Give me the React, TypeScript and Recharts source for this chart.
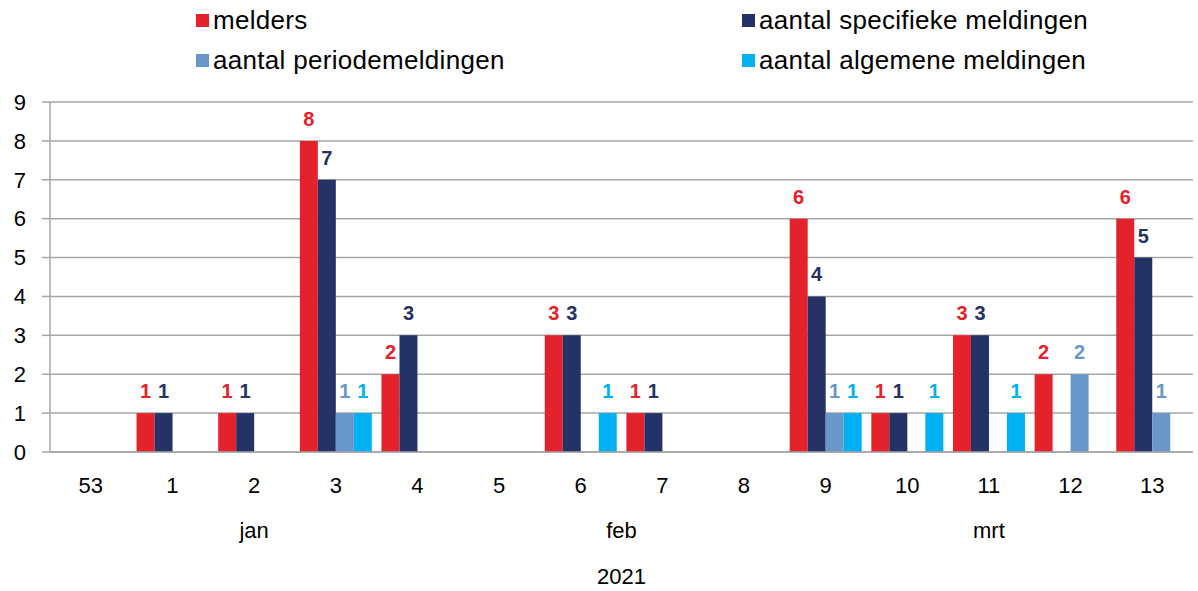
import React from 'react';
import { BarChart, Bar, XAxis, YAxis, CartesianGrid, LabelList } from 'recharts';

const weeks = ['53', '1', '2', '3', '4', '5', '6', '7', '8', '9', '10', '11', '12', '13'];
const months = ['jan', 'jan', 'jan', 'jan', 'jan', 'feb', 'feb', 'feb', 'feb', 'mrt', 'mrt', 'mrt', 'mrt', 'mrt'];
const year = '2021';
const melders = [0, 1, 1, 8, 2, 0, 3, 1, 0, 6, 1, 3, 2, 6];
const specifiek = [0, 1, 1, 7, 3, 0, 3, 1, 0, 4, 1, 3, 0, 5];
const periode = [0, 0, 0, 1, 0, 0, 0, 0, 0, 1, 0, 0, 2, 1];
const algemeen = [0, 0, 0, 1, 0, 0, 1, 0, 0, 1, 1, 1, 0, 0];
const yTicks = [0, 1, 2, 3, 4, 5, 6, 7, 8, 9];

const series = [
  { key: 'melders', name: 'melders', color: '#E4222B' },
  { key: 'specifiek', name: 'aantal specifieke meldingen', color: '#243265' },
  { key: 'periode', name: 'aantal periodemeldingen', color: '#6A97C9' },
  { key: 'algemeen', name: 'aantal algemene meldingen', color: '#00B0F0' },
];

const data = weeks.map((w, i) => ({
  week: w,
  month: months[i],
  melders: melders[i],
  specifiek: specifiek[i],
  periode: periode[i],
  algemeen: algemeen[i],
}));

const FONT = '"Liberation Sans", Arial, sans-serif';

function WeekTick(props: any) {
  const { x, y, payload, width } = props;
  const i: number = payload && payload.index != null ? payload.index : props.index;
  const bw = Number(width) / weeks.length;
  const items: any[] = [
    <text key="w" x={x} y={y + 41} textAnchor="middle" fontSize={22} fill="#000" fontFamily={FONT}>
      {payload.value}
    </text>,
  ];
  if (i === 0 || months[i] !== months[i - 1]) {
    let j = i;
    while (j + 1 < months.length && months[j + 1] === months[i]) j++;
    const off = ((i + j) / 2 - i) * bw;
    items.push(
      <text key="m" x={x + off} y={y + 86} textAnchor="middle" fontSize={22} fill="#000" fontFamily={FONT}>
        {months[i]}
      </text>
    );
  }
  if (i === 0) {
    const off = ((weeks.length - 1) / 2) * bw;
    items.push(
      <text key="y" x={x + off} y={y + 132} textAnchor="middle" fontSize={22} fill="#000" fontFamily={FONT}>
        {year}
      </text>
    );
  }
  return <g>{items}</g>;
}

export default function App() {
  return (
    <div style={{ position: 'absolute', left: 0, top: 0, width: 1198, height: 591, background: '#fff', fontFamily: FONT }}>
      <BarChart
        width={1198}
        height={591}
        data={data}
        margin={{ top: 102, right: 5, left: 0, bottom: 0 }}
        barCategoryGap="6%"
        barGap={0}
      >
        <CartesianGrid vertical={false} stroke="#a6a6a6" strokeWidth={1.5} />
        <XAxis
          dataKey="week"
          height={139}
          interval={0}
          tickLine={false}
          tickSize={0}
          tickMargin={0}
          axisLine={{ stroke: '#a6a6a6', strokeWidth: 1.5 }}
          tick={<WeekTick />}
        />
        <YAxis
          width={50}
          domain={[0, 9]}
          ticks={yTicks}
          interval={0}
          tickSize={8}
          tickMargin={16}
          tickLine={{ stroke: '#a6a6a6', strokeWidth: 1.5 }}
          axisLine={{ stroke: '#a6a6a6', strokeWidth: 1.5 }}
          tick={{ fill: '#000', fontSize: 22, fontFamily: FONT }}
        />
        {series.map((s) => (
          <Bar key={s.key} dataKey={s.key} name={s.name} fill={s.color} isAnimationActive={false}>
            <LabelList
              dataKey={s.key}
              position="top"
              offset={15}
              fill={s.color}
              fontWeight="bold"
              fontSize={20}
              fontFamily={FONT}
              formatter={(v: any) => (v ? v : '')}
            />
          </Bar>
        ))}
      </BarChart>
      <div style={{ position: 'absolute', left: 0, top: 0, width: 1198, height: 90 }}>
        {series.map((s, i) => {
          const col = i % 2;
          const row = Math.floor(i / 2);
          return (
            <div
              key={s.key}
              style={{
                position: 'absolute',
                left: col === 0 ? 196 : 742,
                top: row === 0 ? 3 : 43,
                display: 'flex',
                alignItems: 'center',
                fontSize: 26,
                lineHeight: '34px',
                letterSpacing: '0.3px',
                color: '#000',
                whiteSpace: 'nowrap',
              }}
            >
              <span style={{ display: 'inline-block', width: 13, height: 13, background: s.color, marginRight: 4 }} />
              <span>{s.name}</span>
            </div>
          );
        })}
      </div>
    </div>
  );
}
